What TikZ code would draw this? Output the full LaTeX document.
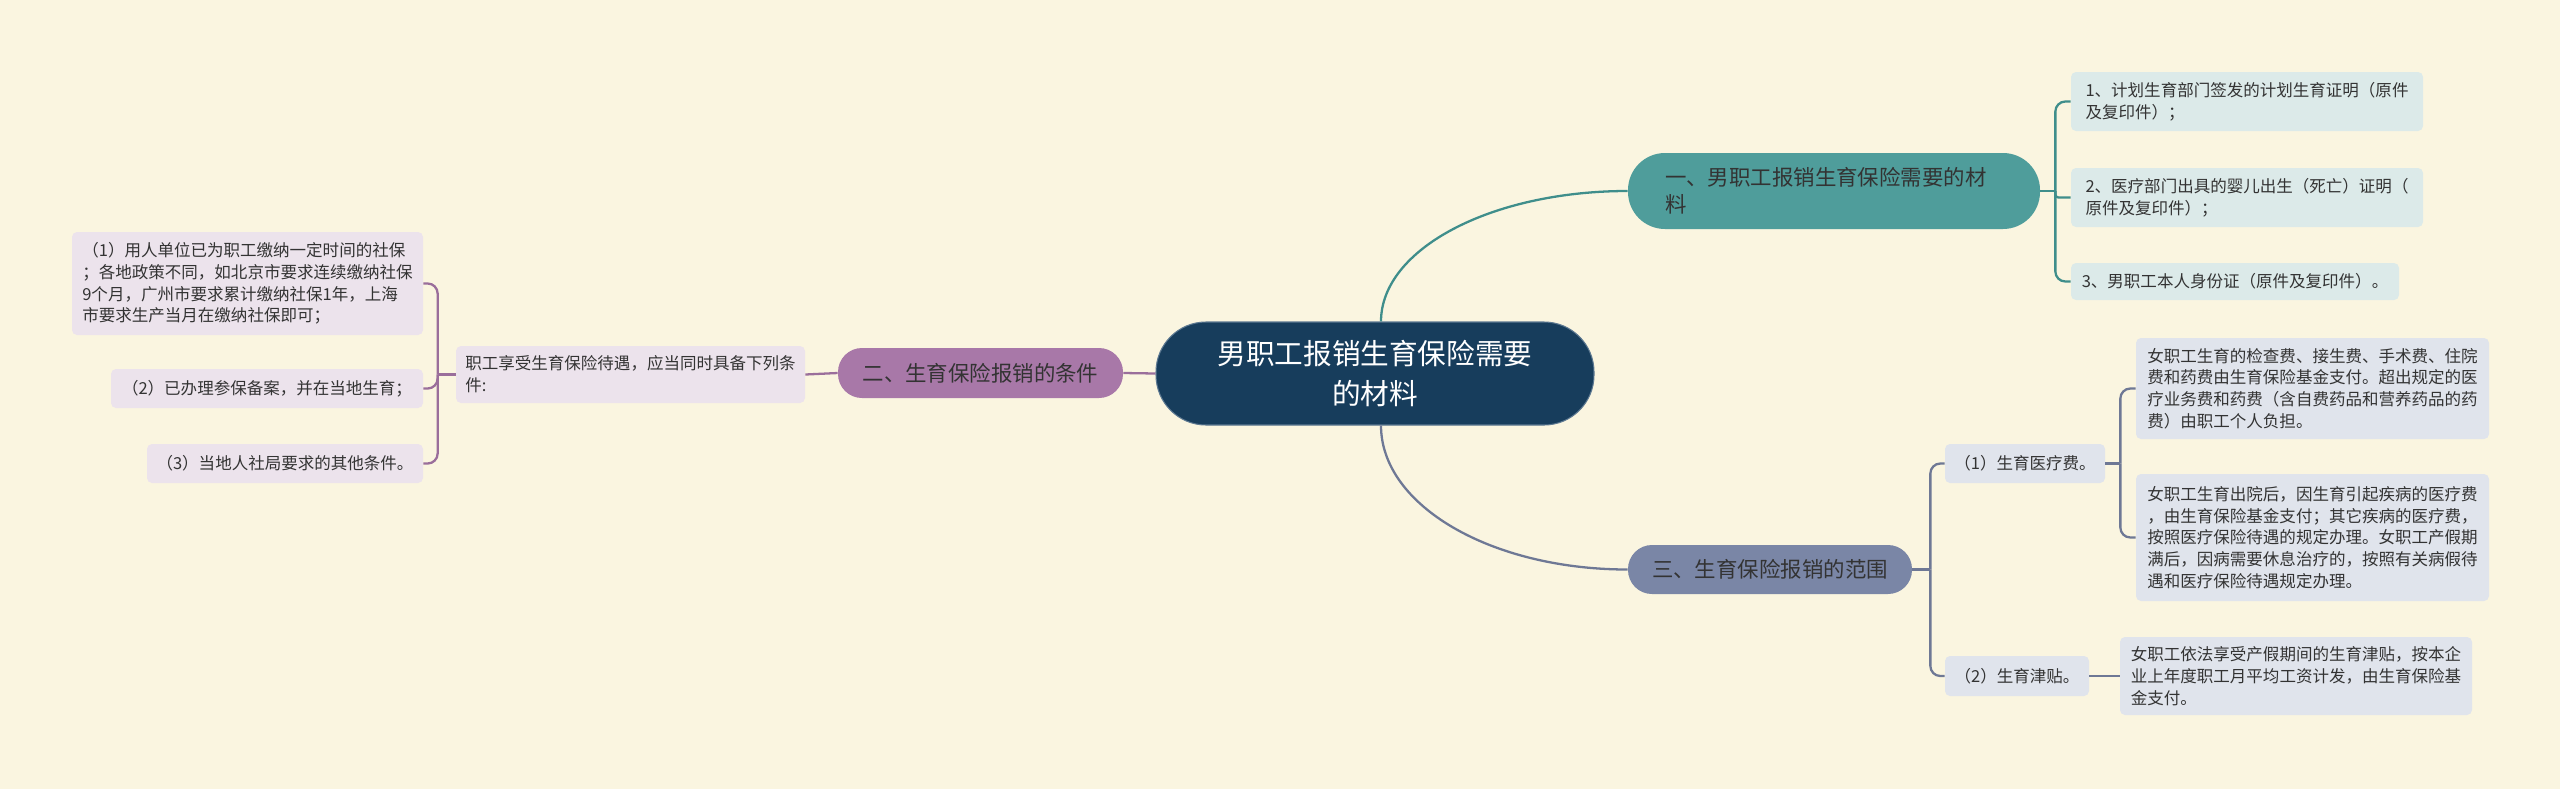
\documentclass[tikz,border=0pt]{standalone}
\usepackage{fontspec}
\setmainfont{Noto Sans CJK SC}

\definecolor{bgc}{HTML}{FAF5E0}
\definecolor{ink}{HTML}{333333}
\definecolor{navy}{HTML}{173D5C}
\definecolor{navyedge}{HTML}{5C7891}
\definecolor{teal}{HTML}{4F9D9B}
\definecolor{tealline}{HTML}{3F8E8B}
\definecolor{tealleaf}{HTML}{DCEAE9}
\definecolor{plum}{HTML}{A878A8}
\definecolor{plumline}{HTML}{9A6E9B}
\definecolor{plumleaf}{HTML}{ECE3EC}
\definecolor{slate}{HTML}{7A86A6}
\definecolor{slateline}{HTML}{6E7895}
\definecolor{slateleaf}{HTML}{E0E4EC}

\begin{document}
\begin{tikzpicture}[
  root/.style={fill=navy,draw=navyedge,line width=0.6pt,rounded corners=1cm,text=white,align=center,inner sep=0pt,font=\fontsize{16.3pt}{22.8pt}\selectfont},
  topic/.style={rounded corners=0.48cm,inner sep=0pt,text=ink,font=\fontsize{12.2pt}{15.4pt}\selectfont},
  leaf/.style={rounded corners=0.1cm,inner sep=0pt,align=left,text=ink,font=\fontsize{9.4pt}{12.4pt}\selectfont},
  link/.style={line width=1.3pt,rounded corners=0.2cm}]
\useasboundingbox (0,0) rectangle (51.2,-15.78);
\fill[bgc] (0,0) rectangle (51.2,-15.78);

\node[root,minimum width=8.76cm,minimum height=2.06cm] (root) at (27.50,-7.47) {男职工报销生育保险需要\\的材料};

% branch one
\node[topic,fill=teal,rounded corners=0.74cm,minimum width=8.24cm,minimum height=1.52cm,align=left,text width=6.76cm] (mat) at (36.68,-3.82) {一、男职工报销生育保险需要的材\\料};
\node[leaf,fill=tealleaf,minimum width=7.04cm,minimum height=1.18cm] (mat1) at (44.94,-2.03) {1、计划生育部门签发的计划生育证明（原件\\及复印件）；};
\node[leaf,fill=tealleaf,minimum width=7.04cm,minimum height=1.18cm] (mat2) at (44.94,-3.95) {2、医疗部门出具的婴儿出生（死亡）证明（\\原件及复印件）；};
\node[leaf,fill=tealleaf,minimum width=6.56cm,minimum height=0.74cm] (mat3) at (44.70,-5.63) {3、男职工本人身份证（原件及复印件）。};

% branch two
\node[topic,fill=plum,minimum width=5.70cm,minimum height=1.00cm] (cond) at (19.61,-7.46) {二、生育保险报销的条件};
\node[leaf,fill=plumleaf,minimum width=6.98cm,minimum height=1.14cm] (req) at (12.61,-7.49) {职工享受生育保险待遇，应当同时具备下列条\\件:};
\node[leaf,fill=plumleaf,minimum width=7.02cm,minimum height=2.06cm] (cond1) at (4.95,-5.67) {（1）用人单位已为职工缴纳一定时间的社保\\；各地政策不同，如北京市要求连续缴纳社保\\9个月，广州市要求累计缴纳社保1年，上海\\市要求生产当月在缴纳社保即可；};
\node[leaf,fill=plumleaf,minimum width=6.24cm,minimum height=0.78cm] (cond2) at (5.34,-7.77) {（2）已办理参保备案，并在当地生育；};
\node[leaf,fill=plumleaf,minimum width=5.52cm,minimum height=0.78cm] (cond3) at (5.70,-9.27) {（3）当地人社局要求的其他条件。};

% branch three
\node[topic,fill=slate,minimum width=5.68cm,minimum height=0.98cm] (scope) at (35.40,-11.39) {三、生育保险报销的范围};
\node[leaf,fill=slateleaf,minimum width=3.20cm,minimum height=0.78cm] (med) at (40.50,-9.27) {（1）生育医疗费。};
\node[leaf,fill=slateleaf,minimum width=2.88cm,minimum height=0.80cm] (allow) at (40.34,-13.52) {（2）生育津贴。};
\node[leaf,fill=slateleaf,minimum width=7.06cm,minimum height=2.02cm] (med1) at (46.25,-7.77) {女职工生育的检查费、接生费、手术费、住院\\费和药费由生育保险基金支付。超出规定的医\\疗业务费和药费（含自费药品和营养药品的药\\费）由职工个人负担。};
\node[leaf,fill=slateleaf,minimum width=7.06cm,minimum height=2.54cm] (med2) at (46.25,-10.75) {女职工生育出院后，因生育引起疾病的医疗费\\，由生育保险基金支付；其它疾病的医疗费，\\按照医疗保险待遇的规定办理。女职工产假期\\满后，因病需要休息治疗的，按照有关病假待\\遇和医疗保险待遇规定办理。};
\node[leaf,fill=slateleaf,minimum width=7.04cm,minimum height=1.56cm] (allow1) at (45.92,-13.52) {女职工依法享受产假期间的生育津贴，按本企\\业上年度职工月平均工资计发，由生育保险基\\金支付。};

% bracket joints
\coordinate (matj) at ([xshift=0.3cm]mat.east);
\coordinate (reqj) at ([xshift=-0.36cm]req.west);
\coordinate (scopej) at ([xshift=0.36cm]scope.east);
\coordinate (medj) at ([xshift=0.3cm]med.east);

\draw[link,tealline] ([xshift=0.12cm]root.north) .. controls +(0,1.45) and +(-2.73,0) .. (mat.west);
\draw[link,slateline] ([xshift=0.12cm]root.south) .. controls +(0,-1.6) and +(-2.73,0) .. (scope.west);
\draw[link,plumline] (root.west) -- (cond.east);
\draw[link,plumline] (cond.west) -- (req.east);
\draw[link,tealline] (mat.east) -- (matj);
\draw[link,tealline] (matj) |- (mat1.west);
\draw[link,tealline,rounded corners=0.06cm] (matj) |- (mat2.west);
\draw[link,tealline] (matj) |- (mat3.west);
\draw[link,plumline] (req.west) -- (reqj);
\draw[link,plumline] (reqj) |- (cond1.east);
\draw[link,plumline] (reqj) |- (cond2.east);
\draw[link,plumline] (reqj) |- (cond3.east);
\draw[link,slateline] (scope.east) -- (scopej);
\draw[link,slateline] (scopej) |- (med.west);
\draw[link,slateline] (scopej) |- (allow.west);
\draw[link,slateline] (med.east) -- (medj);
\draw[link,slateline] (medj) |- (med1.west);
\draw[link,slateline] (medj) |- (med2.west);
\draw[link,slateline] (allow.east) -- (allow1.west);
\end{tikzpicture}
\end{document}
